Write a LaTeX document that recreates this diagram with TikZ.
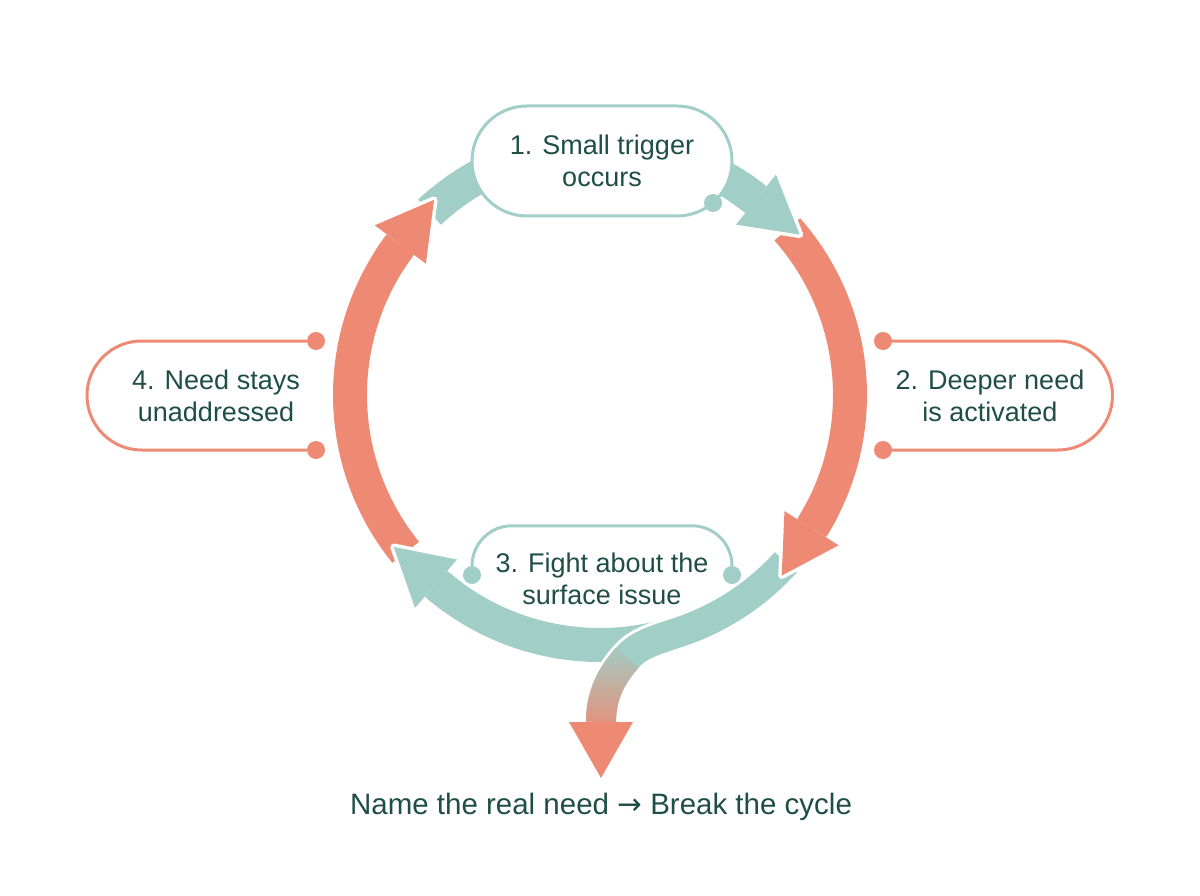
\documentclass[tikz,border=0pt]{standalone}
\usepackage{fontspec}
\setmainfont{Liberation Sans}
\newfontfamily\arrowfont{DejaVu Sans}
\usetikzlibrary{positioning,calc,fadings}

\definecolor{cyclered}{RGB}{238,138,115}
\definecolor{cycleteal}{RGB}{161,206,198}
\definecolor{cycletext}{RGB}{31,78,70}
\tikzfading[name=fadedown, top color=transparent!0, bottom color=transparent!100]

\begin{document}
\begin{tikzpicture}[
        x=1pt, y=-1pt,
        band/.style = {line width=34pt},
        label/.style = {text=cycletext, align=center, inner sep=0pt, font=\fontsize{27}{31.5}\selectfont},
        box/.style = {line width=3pt},
        dot/.style = {circle, inner sep=0pt, minimum size=18pt}
    ]
        \useasboundingbox (0,0) rectangle (1200,896);
        \coordinate (c) at (600,395);

        % Bandes du cycle
        \draw[band, cycleteal] ($(c)+(73:250)$) arc[start angle=73, end angle=131, radius=250];
        \draw[band, cyclered] ($(c)+(141:250)$) arc[start angle=141, end angle=217, radius=250];
        \draw[band, cycleteal] ($(c)+(227:250)$) arc[start angle=227, end angle=308.6, radius=250];
        \draw[band, cyclered] ($(c)+(318.5:250)$) arc[start angle=318.5, end angle=392.2, radius=250];

        % Sortie du cycle (dégradé)
        \draw[band, line width=30pt, cycleteal, preaction={draw=white, line width=36pt}]
            ($(c)+(42:250)$) arc[start angle=42, end angle=72, radius=250]
            .. controls (655,640) and (638,645) .. (627,658) coordinate (smid)
            .. controls (614,673) and (601,692) .. (601,722) coordinate (sfoot);
        \draw[band, line width=30pt, cyclered] (smid) .. controls (614,673) and (601,692) .. (sfoot);
        \draw[band, line width=30pt, cycleteal, path fading=fadedown] (smid) .. controls (614,673) and (601,692) .. (sfoot);
        \coordinate (breaktip) at ($(sfoot)+(0,56)$);
        \fill[cyclered] ($(sfoot)+(-32,0)$) -- (breaktip) -- ($(sfoot)+(32,0)$) -- cycle;

        % Pointes des flèches
        \foreach \col/\a in {cycleteal/131, cyclered/217, cycleteal/308.6, cyclered/32.2} {
            \coordinate (hout) at ($(c)+(\a:282)$);
            \coordinate (hin) at ($(c)+(\a:218)$);
            \coordinate (htip) at ($(c)+(\a:250)+(\a+90:56)$);
            \filldraw[white, line width=7pt, line join=round] (hout) -- (htip) -- (hin) -- cycle;
            \draw[band, \col] ($(c)+(\a-5:250)$) arc[start angle=\a-5, end angle=\a, radius=250];
            \fill[\col] (hout) -- (htip) -- (hin) -- cycle;
        }

        % Étapes
        \node[label, box, draw=cycleteal, fill=white, rounded corners=54.9pt,
              minimum width=260pt, minimum height=110pt] (trigger) at (602,161) {1. Small trigger\\occurs};
        \node[dot, fill=cycleteal] (trigdot) at (713,203) {};

        \node[dot, fill=cyclered] (needtop) at (883,341) {};
        \node[dot, fill=cyclered] (needbot) at (883,450) {};
        \draw[box, cyclered] (needtop) -- (1058,341) arc[start angle=-90, end angle=90, radius=54.5] -- (needbot);
        \node[label] (deeper) at (990,396) {2. Deeper need\\is activated};

        \node[dot, fill=cycleteal] (fightl) at (472,575) {};
        \node[dot, fill=cycleteal] (fightr) at (732,575) {};
        \draw[box, cycleteal] (fightl.north) arc[start angle=180, end angle=270, radius=40]
            -- ($(fightr.north)+(-40,-40)$) arc[start angle=270, end angle=360, radius=40] -- (fightr.north);
        \node[label] (fight) at (602,579) {3. Fight about the\\surface issue};

        \node[dot, fill=cyclered] (staytop) at (316,341) {};
        \node[dot, fill=cyclered] (staybot) at (316,450) {};
        \draw[box, cyclered] (staytop) -- (141.5,341) arc[start angle=270, end angle=90, radius=54.5] -- (staybot);
        \node[label] (unaddressed) at (216,396) {4. Need stays\\unaddressed};

        \node[label, font=\fontsize{29.5}{34}\selectfont, below=15pt of breaktip] (breakcycle)
            {Name the real need {\arrowfont →} Break the cycle};
\end{tikzpicture}
\end{document}
